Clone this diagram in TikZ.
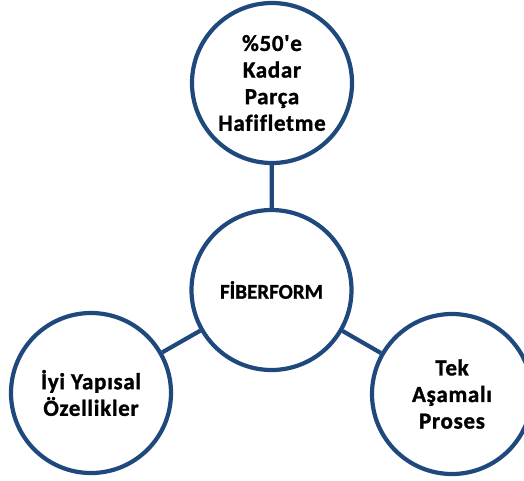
\documentclass[tikz,border=0pt]{standalone}
\usepackage{fontspec}
\newfontfamily\cf[Ligatures=NoCommon,LetterSpace=3,BoldFeatures={FakeBold=1.2}]{Carlito}
\newfontfamily\cfc[Ligatures=NoCommon,BoldFeatures={FakeBold=1.2}]{Carlito}
\definecolor{ringblue}{RGB}{31,73,125}
\begin{document}
\begin{tikzpicture}[x=1pt,y=-1pt,
  ring/.style={circle,draw=ringblue,line width=4.2pt,fill=white,minimum size=160pt,inner sep=0pt,
    align=center,font=\cf\bfseries\fontsize{23}{26.6}\selectfont,text=black},
  hub/.style={ring,font=\cfc\bfseries\fontsize{21}{26}\selectfont},
  link/.style={draw=ringblue,line width=4.2pt}]
\useasboundingbox (0,0) rectangle (524,480);
\clip (0,0) rectangle (524,480);
\node[ring] (t) at (272,83) {\%50\char39e\\Kadar\\Parça\\Hafifletme};
\node[hub] (c) at (271.5,290) {FİBERFORM};
\node[ring] (l) at (91,393) {İyi Yapısal\\Özellikler};
\node[ring] (r) at (452,394) {Tek\\Aşamalı\\Proses};
\draw[link] (c) -- (t);
\draw[link] (c) -- (l);
\draw[link] (c) -- (r);
\end{tikzpicture}
\end{document}
